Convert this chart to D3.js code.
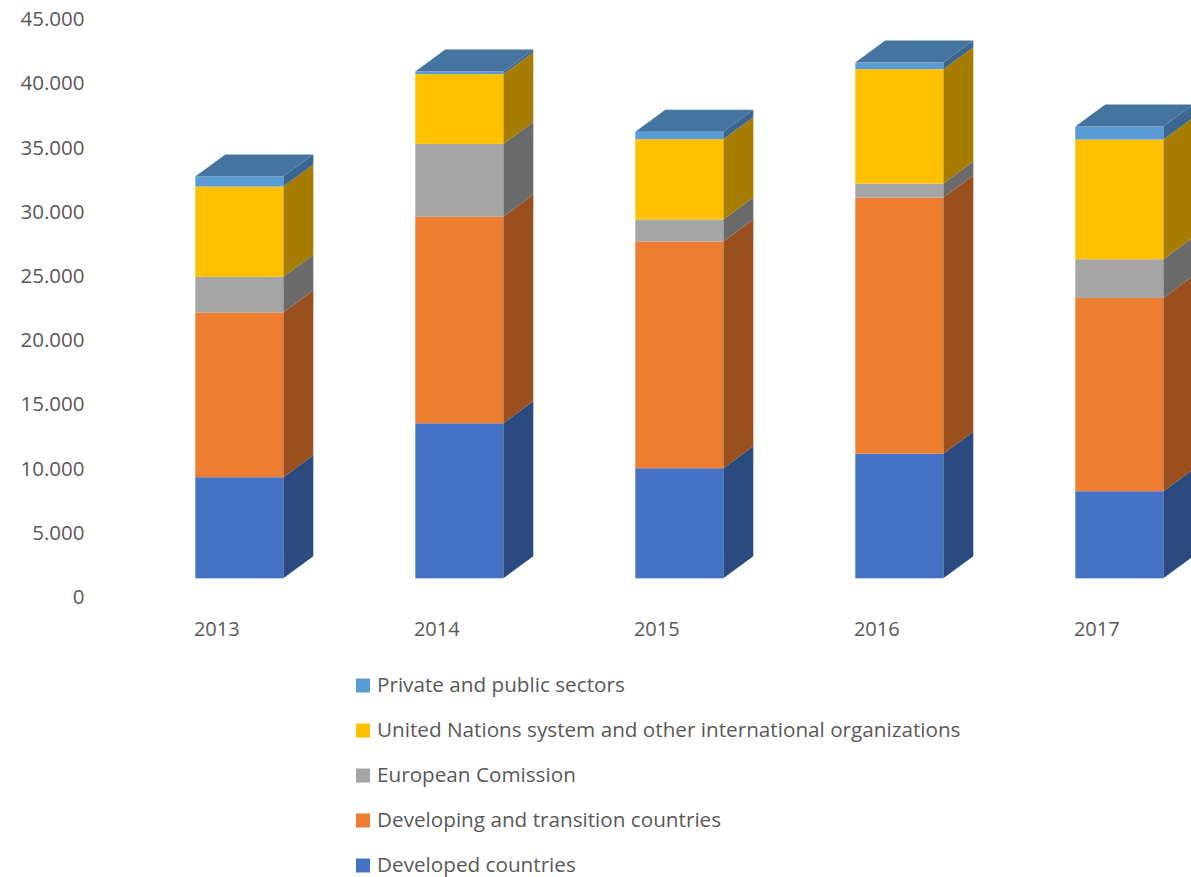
<!DOCTYPE html>
<html>
<head>
<meta charset="utf-8">
<script src="https://cdn.jsdelivr.net/npm/d3@7"></script>
<style>
  body { margin: 0; background: #fff; }
  text { font-family: "Open Sans", sans-serif; fill: #595959; }
</style>
</head>
<body>
<div id="chart"></div>
<script>
// data
const years = ["2013", "2014", "2015", "2016", "2017"]
const developed = [7870, 12070, 8570, 9700, 6780]
const developing = [12820, 16090, 17650, 19940, 15050]
const european = [2780, 5660, 1710, 1090, 3010]
const unSystem = [7030, 5430, 6260, 8910, 9320]
const privatePublic = [780, 200, 570, 510, 1010]
const seriesNames = ["Developed countries", "Developing and transition countries", "European Comission",
  "United Nations system and other international organizations", "Private and public sectors"]
const yTicks = [0, 5000, 10000, 15000, 20000, 25000, 30000, 35000, 40000, 45000]

const width = 1191
const height = 877
const keys = ["developed", "developing", "european", "unSystem", "privatePublic"]
const frontColors = ["#4472C4", "#ED7D31", "#A5A5A5", "#FFC000", "#5B9BD5"]
const sideColors = ["#2A4A80", "#9A4F1F", "#6A6A6A", "#A67D00", "#3B6690"]
const topColor = "#44749F"

// 3d offsets: floor front -> bar front, and depth of the bar itself
const floorShift = {dx: 22.5, dy: 18.7}
const depth = {dx: 30, dy: 22}

// tabel voor d3.stack
const table = years.map(function(y, i) {
  return {year: y, developed: developed[i], developing: developing[i], european: european[i],
    unSystem: unSystem[i], privatePublic: privatePublic[i]}
})
const stacked = d3.stack().keys(keys)(table)

const yScale = d3.scaleLinear().domain([0, 45000]).range([597, 19])
const xScale = d3.scaleBand().domain(years).range([129.3, 1229.3]).paddingInner(0.6).paddingOuter(0.3)

const nl = d3.formatLocale({decimal: ",", thousands: ".", grouping: [3], currency: ["", ""]})
const fmt = nl.format(",")

const svg = d3.select("#chart").append("svg")
    .attr("width", width)
    .attr("height", height)

// y-as
svg.append("g")
    .attr("class", "y-axis")
    .attr("transform", "translate(88,0)")
    .call(d3.axisLeft(yScale).tickValues(yTicks).tickSize(0).tickPadding(3.5).tickFormat(fmt))
    .call(function(g) { g.select(".domain").remove() })
  .selectAll("text")
    .style("font-size", "20.5px")
    .style("font-family", "'Open Sans', sans-serif")
    .attr("fill", "#595959")

// x-as labels
svg.append("g")
    .attr("class", "x-labels")
  .selectAll("text")
    .data(years)
    .enter()
    .append("text")
    .attr("x", function(d) { return xScale(d) + xScale.bandwidth() / 2 - floorShift.dx })
    .attr("y", 636)
    .attr("text-anchor", "middle")
    .style("font-size", "20px")
    .text(function(d) { return d })

function pts(arr) { return arr.map(function(p) { return p.join(",") }).join(" ") }

// bars
const bars = svg.append("g").attr("class", "bars")
stacked.forEach(function(layer, si) {
  layer.forEach(function(seg, i) {
    const x0 = xScale(years[i])
    const x1 = x0 + xScale.bandwidth()
    const yb = yScale(seg[0]) - floorShift.dy
    const yt = yScale(seg[1]) - floorShift.dy
    // zijkant
    bars.append("polygon")
        .attr("points", pts([[x1, yt], [x1 + depth.dx, yt - depth.dy], [x1 + depth.dx, yb - depth.dy], [x1, yb]]))
        .attr("fill", sideColors[si])
    // voorkant
    bars.append("rect")
        .attr("x", x0)
        .attr("y", yt)
        .attr("width", x1 - x0)
        .attr("height", yb - yt)
        .attr("fill", frontColors[si])
    // bovenkant alleen voor de bovenste laag
    if (si === keys.length - 1) {
      bars.append("polygon")
          .attr("points", pts([[x0, yt], [x0 + depth.dx, yt - depth.dy], [x1 + depth.dx, yt - depth.dy], [x1, yt]]))
          .attr("fill", topColor)
    }
  })
})

// legenda, bovenste serie eerst
const legend = svg.append("g").attr("class", "legend")
const order = [4, 3, 2, 1, 0]
order.forEach(function(si, r) {
  const cy = 685.5 + r * 45
  legend.append("rect")
      .attr("x", 356)
      .attr("y", cy - 7)
      .attr("width", 14)
      .attr("height", 14)
      .attr("fill", frontColors[si])
  legend.append("text")
      .attr("x", 377)
      .attr("y", cy)
      .attr("dy", "0.3em")
      .style("font-size", "20.7px")
      .text(seriesNames[si])
})
</script>
</body>
</html>
